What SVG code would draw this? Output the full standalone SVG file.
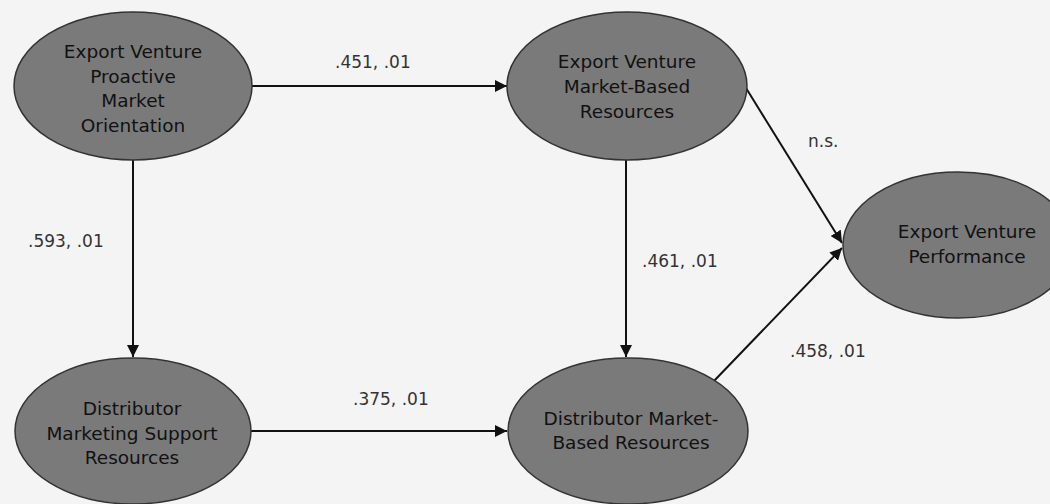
<svg xmlns="http://www.w3.org/2000/svg" width="1050" height="504" viewBox="0 0 1050 504">
  <style>
    .node { fill: #7a7a7a; stroke: #333; stroke-width: 1.5; }
    .ntext { font-family: "DejaVu Sans", "Liberation Sans", sans-serif; font-size: 18.5px; fill: #111; text-anchor: middle; }
    .edge { stroke: #111; stroke-width: 2; fill: none; marker-end: url(#arrow); }
    .elabel { font-family: "DejaVu Sans", "Liberation Sans", sans-serif; font-size: 17px; fill: #333; }
  </style>
  <defs>
    <marker id="arrow" viewBox="0 0 10 10" refX="10" refY="5" markerWidth="6" markerHeight="6" orient="auto" markerUnits="strokeWidth">
      <path d="M0,0 L10,5 L0,10 z" fill="#111"/>
    </marker>
  </defs>

  <rect width="1050" height="504" fill="#f4f4f4"/>

  <g id="connectors">
    <line class="edge" x1="252" y1="86" x2="507" y2="86"/>
    <line class="edge" x1="133" y1="160" x2="133" y2="357"/>
    <line class="edge" x1="626" y1="160" x2="626" y2="357"/>
    <line class="edge" x1="251" y1="431" x2="507" y2="431"/>
    <line class="edge" x1="746" y1="88" x2="842" y2="243"/>
    <line class="edge" x1="713" y1="382" x2="842" y2="248"/>
    <text class="elabel" x="335" y="68">.451, .01</text>
    <text class="elabel" x="28" y="247">.593, .01</text>
    <text class="elabel" x="642" y="267">.461, .01</text>
    <text class="elabel" x="353" y="405">.375, .01</text>
    <text class="elabel" x="790" y="357">.458, .01</text>
    <text class="elabel" x="808" y="147">n.s.</text>
  </g>

  <g id="proactive-orientation">
    <ellipse class="node" cx="133" cy="86" rx="119" ry="74"/>
    <text class="ntext" x="133" y="58">Export Venture</text>
    <text class="ntext" x="133" y="83">Proactive</text>
    <text class="ntext" x="133" y="107">Market</text>
    <text class="ntext" x="133" y="132">Orientation</text>
  </g>

  <g id="venture-resources">
    <ellipse class="node" cx="627" cy="86" rx="120" ry="74"/>
    <text class="ntext" x="627" y="68">Export Venture</text>
    <text class="ntext" x="627" y="93">Market-Based</text>
    <text class="ntext" x="627" y="118">Resources</text>
  </g>

  <g id="distributor-support">
    <ellipse class="node" cx="133" cy="431" rx="118" ry="73"/>
    <text class="ntext" x="132" y="415">Distributor</text>
    <text class="ntext" x="132" y="440">Marketing Support</text>
    <text class="ntext" x="132" y="464">Resources</text>
  </g>

  <g id="distributor-resources">
    <ellipse class="node" cx="628" cy="431" rx="120" ry="73"/>
    <text class="ntext" x="631" y="425">Distributor Market-</text>
    <text class="ntext" x="631" y="449">Based Resources</text>
  </g>

  <g id="performance">
    <ellipse class="node" cx="958" cy="245" rx="115" ry="73"/>
    <text class="ntext" x="967" y="238">Export Venture</text>
    <text class="ntext" x="967" y="263">Performance</text>
  </g>
</svg>
